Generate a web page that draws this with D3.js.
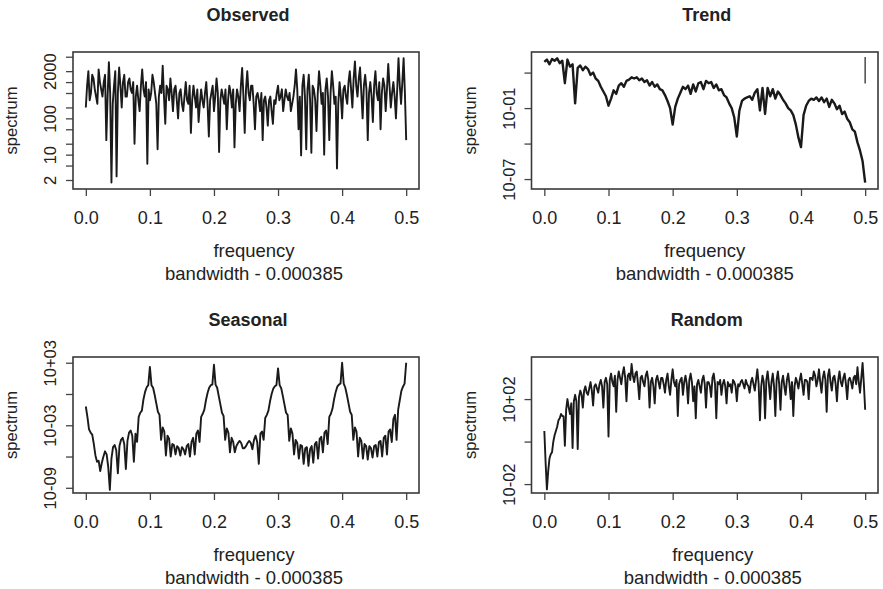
<!DOCTYPE html>
<html>
<head>
<meta charset="utf-8">
<script src="https://cdn.jsdelivr.net/npm/d3@7"></script>
<style>
  body { margin: 0; background: #fff; }
  text { font-family: "Liberation Sans", Arial, Helvetica, sans-serif; fill: #222; }
</style>
</head>
<body>
<div id="chart"></div>
<script>
// frequency axis ticks (shared by all four panels)
var freqTicks = [0, 0.1, 0.2, 0.3, 0.4, 0.5];
var freqTickLabels = ["0.0", "0.1", "0.2", "0.3", "0.4", "0.5"];

// spectra, stored as log10(spectrum) on an even frequency grid
var observedStep = 0.002;
var observedLog = [
  2.3, 2.9, 3.3, 2.5, 2.7, 3.2, 3.1, 2.8, 2.6, 2.4, 3.35, 3.0, 2.8, 2.6, 3.0, 3.2, 1.4, 2.6, 3.55, 2.7,
  0.23, 2.4, 2.9, 3.3, 0.4, 2.7, 3.4, 2.9, 2.3, 3.0, 3.2, 2.6, 2.6, 3.0, 3.1, 2.8, 2.7, 3.0, 1.3, 2.6,
  2.9, 2.5, 2.2, 2.9, 3.35, 2.8, 2.6, 3.0, 0.75, 2.8, 2.5, 2.7, 3.2, 3.0, 2.7, 2.4, 1.15, 2.6, 2.9, 2.7,
  3.45, 2.6, 1.85, 2.9, 2.8, 2.5, 3.1, 2.7, 2.2, 2.8, 2.9, 2.5, 2.0, 2.7, 2.8, 2.4, 2.2, 2.6, 3.0, 2.5,
  2.4, 2.9, 1.6, 2.5, 2.9, 2.6, 2.3, 2.8, 1.9, 2.4, 2.8, 2.5, 2.3, 2.7, 3.0, 2.4, 1.5, 2.5, 2.7, 2.9,
  2.2, 2.6, 3.1, 2.7, 1.07, 2.5, 2.8, 2.6, 2.4, 2.8, 1.7, 2.5, 2.9, 2.7, 2.3, 2.8, 1.2, 2.4, 2.8, 2.6,
  2.2, 2.9, 3.39, 2.6, 1.6, 2.8, 3.3, 2.7, 2.5, 2.9, 2.9, 2.4, 1.7, 2.6, 2.7, 2.5, 2.2, 2.7, 1.4, 2.5,
  2.6, 2.3, 1.8, 2.5, 2.6, 2.2, 1.85, 2.5, 2.4, 2.7, 2.9, 2.5, 2.6, 2.8, 2.2, 2.5, 2.8, 2.6, 2.5, 2.7,
  2.2, 2.4, 2.6, 2.9, 3.35, 2.8, 1.7, 2.6, 0.98, 2.9, 3.2, 2.6, 1.15, 2.8, 3.2, 2.5, 1.05, 2.9, 2.8, 2.5,
  1.65, 2.7, 3.3, 2.9, 2.4, 2.7, 1.0, 2.8, 3.1, 2.6, 1.4, 2.7, 3.3, 2.9, 2.4, 2.6, 0.62, 2.4, 3.0, 2.6,
  2.0, 2.8, 2.9, 2.6, 2.4, 3.0, 3.3, 2.8, 2.3, 3.1, 3.57, 2.9, 2.6, 3.1, 3.4, 2.7, 2.0, 2.9, 3.2, 2.8,
  1.4, 2.7, 3.0, 2.6, 1.9, 2.9, 3.3, 2.7, 2.5, 3.0, 1.7, 2.7, 3.1, 2.9, 2.2, 2.8, 3.5, 2.9, 2.3, 2.7,
  3.0, 2.6, 2.0, 2.8, 3.66, 2.9, 2.4, 3.0, 3.66, 2.7, 1.4
];

var trendStep = 0.004;
var trendLog = [
  2.9, 3.1, 2.7, 3.15, 3.0, 3.2, 2.8, 3.0, 1.1, 3.1,
  2.5, 2.7, -0.6, 2.4, 2.6, 2.2, 2.5, 2.3, 1.8, 2.0,
  1.5, 1.3, 0.8, 0.4, 0.0, -0.8, -0.2, 0.5, 0.2, 0.9,
  1.1, 0.8, 1.3, 1.4, 1.6, 1.5, 1.6, 1.35, 1.5, 1.2,
  1.35, 0.9, 1.2, 0.8, 1.0, 0.6, 0.5, 0.1, -0.4, -1.0,
  -2.4, -0.9, -0.2, 0.3, 0.8, 0.6, 0.9, 0.2, 1.0, 0.4,
  1.1, 1.2, 0.6, 1.3, 1.1, 1.2, 0.7, 1.0, 0.5, 0.6,
  0.1, -0.1, -0.6, -1.0, -1.8, -3.4, -1.2, -0.4, -0.2, -0.1,
  0.0, -0.3, 0.3, 0.6, -1.2, 0.7, -1.5, 0.7, 0.0, 0.6,
  -0.2, 0.4, 0.1, -0.3, -0.6, -1.0, -1.2, -1.6, -2.4, -3.5,
  -4.3, -1.6, -0.8, -0.4, -0.2, -0.3, -0.1, -0.4, -0.1, -0.5,
  -0.2, -0.9, -0.3, -0.6, -1.1, -0.8, -1.5, -1.3, -1.9, -2.2,
  -2.8, -3.0, -3.9, -4.6, -5.5, -7.3
];
// confidence bar drawn at the right edge of the trend panel
var trendCI = [1.07, 3.32];

var seasonalStep = 0.0025;
var seasonalLog = [
  -1.2, -2.2, -3.4, -3.7, -3.9, -4.8, -5.9, -6.5, -6.4, -7.4,
  -6.6, -6.0, -5.5, -5.8, -7.0, -9.2, -6.2, -5.1, -4.9, -5.4,
  -7.6, -5.0, -4.4, -4.2, -4.8, -7.2, -4.5, -3.7, -3.5, -4.0,
  -6.5, -3.8, -4.6, -2.2, -1.8, -1.6, -0.5, 0.2, 0.65, 0.85,
  2.6, 0.85, 0.6, -0.1, -0.9, -1.7, -2.0, -4.4, -3.2, -3.6,
  -5.9, -4.0, -4.3, -6.0, -4.8, -4.9, -5.8, -5.0, -5.2, -5.9,
  -5.1, -5.3, -5.8, -5.0, -4.8, -6.0, -4.6, -4.2, -5.8, -3.8,
  -3.5, -4.6, -2.2, -1.9, -1.5, -0.6, 0.1, 0.6, 0.85, 0.9,
  2.8, 0.9, 0.6, -0.2, -1.0, -1.8, -2.1, -4.4, -3.3, -3.7,
  -5.6, -4.2, -4.6, -5.6, -5.0, -4.7, -4.5, -4.7, -5.2, -5.2,
  -5.0, -4.7, -4.5, -4.7, -5.3, -4.4, -4.0, -4.6, -6.7, -3.8,
  -3.6, -4.4, -2.3, -2.0, -1.6, -0.7, 0.0, 0.5, 0.75, 0.85,
  2.45, 0.85, 0.55, -0.2, -1.0, -1.8, -2.0, -4.5, -3.3, -3.8,
  -5.8, -4.4, -4.7, -6.2, -4.9, -5.0, -6.7, -5.2, -5.1, -6.9,
  -5.3, -5.0, -6.6, -4.8, -4.6, -6.2, -4.3, -4.1, -5.6, -3.7,
  -3.5, -4.8, -2.2, -1.9, -1.4, -0.5, 0.2, 0.7, 0.9, 1.0,
  3.0, 1.0, 0.6, -0.1, -0.9, -1.7, -2.0, -4.4, -3.2, -3.6,
  -6.0, -4.2, -4.5, -6.2, -4.8, -5.0, -6.3, -5.0, -5.2, -6.1,
  -5.0, -4.9, -6.0, -4.6, -4.5, -6.0, -4.2, -4.0, -5.8, -3.6,
  -3.4, -4.6, -2.4, -2.0, -4.4, -1.5, -0.6, 0.3, 0.7, 1.0,
  3.0
];

var randomStep = 0.002;
var randomLog = [
  0.5, -1.0, -2.25, -1.4, -0.8, -0.6, -0.5, 0.0, 0.3, 0.5, 0.7, 1.0, 1.1, 1.3, 1.2, 1.2, -0.2, 1.5, 2.0, 1.6,
  1.3, 1.8, -0.3, 1.9, 2.2, 1.9, -0.35, 2.1, 2.4, 2.2, 1.6, 2.4, 2.6, 2.3, 2.2, 2.5, 2.8, 2.4, 1.7, 2.6,
  2.7, 2.5, 2.3, 2.7, 2.9, 2.6, 1.6, 2.8, 3.0, 2.7, 0.24, 2.9, 3.2, 2.8, 2.6, 3.1, 1.4, 2.9, 3.3, 3.0,
  2.7, 3.2, 3.5, 3.0, 1.9, 3.1, 3.2, 2.9, 3.65, 3.1, 2.8, 3.2, 3.3, 2.7, 2.0, 3.0, 3.1, 2.8, 2.6, 3.1,
  3.3, 2.9, 1.6, 2.8, 3.0, 2.6, 1.8, 2.9, 3.1, 2.8, 2.5, 3.0, 3.0, 2.7, 2.3, 2.9, 3.2, 2.6, 2.2, 2.9,
  3.4, 2.8, 2.6, 2.9, 1.2, 2.7, 2.9, 3.0, 2.2, 2.8, 3.1, 2.7, 1.8, 2.9, 3.2, 2.8, 1.9, 2.6, 1.1, 2.7,
  2.9, 2.6, 2.3, 2.9, 3.1, 2.7, 1.6, 2.8, 2.8, 2.6, 2.1, 3.0, 3.2, 2.7, 1.1, 2.8, 2.7, 2.9, 2.2, 2.7,
  2.9, 2.6, 1.8, 2.8, 2.6, 2.7, 2.3, 2.9, 2.8, 2.6, 1.9, 2.7, 2.6, 2.8, 2.9, 2.7, 2.5, 2.9, 2.7, 2.6,
  2.3, 2.8, 3.0, 2.7, 2.4, 2.9, 3.4, 2.7, 1.0, 2.6, 3.1, 2.8, 1.1, 2.9, 3.3, 2.7, 2.0, 2.8, 3.2, 2.6,
  1.2, 2.9, 3.3, 2.7, 1.5, 2.8, 3.1, 2.6, 2.2, 2.9, 3.2, 2.7, 2.0, 2.8, 1.2, 2.6, 3.0, 2.8, 2.5, 2.9,
  3.2, 2.7, 2.2, 2.9, 2.9, 2.8, 2.0, 3.0, 3.0, 2.9, 3.3, 3.1, 2.6, 2.9, 3.4, 2.8, 2.3, 3.0, 3.3, 2.9,
  1.4, 3.1, 3.4, 2.8, 2.4, 3.0, 3.1, 2.7, 1.9, 2.9, 3.3, 2.8, 2.6, 3.0, 3.2, 2.7, 2.0, 2.9, 3.0, 2.8,
  2.5, 3.0, 3.1, 2.7, 3.5, 2.8, 2.3, 3.0, 3.7, 2.7, 1.5
];

var panels = [
  { title: "Observed", values: observedLog, step: observedStep, width: 1.9, labelShift: 8,
    box: [73, 52, 419, 189], logDomain: [0.053, 3.829],
    yTicks: [2, 5, 10, 20, 50, 100, 200, 500, 1000, 2000, 5000],
    yLabels: { 2: "2", 10: "10", 100: "100", 2000: "2000" } },
  { title: "Trend", values: trendLog, step: trendStep, width: 2.4, labelShift: 0, ci: trendCI,
    box: [531.5, 52, 878, 189], logDomain: [-7.84, 3.74],
    yTicks: [1e2, 1e-1, 1e-4, 1e-7],
    yLabels: { 1e-1: "10-01", 1e-7: "10-07" } },
  { title: "Seasonal", values: seasonalLog, step: seasonalStep, width: 1.9, labelShift: 8,
    box: [73, 357, 419, 493], logDomain: [-9.5, 3.55],
    yTicks: [1e3, 1, 1e-3, 1e-6, 1e-9],
    yLabels: { 1e3: "10+03", 1e-3: "10-03", 1e-9: "10-09" } },
  { title: "Random", values: randomLog, step: randomStep, width: 1.9, labelShift: 8,
    box: [531.5, 357, 878, 493], logDomain: [-2.42, 3.98],
    yTicks: [1e2, 1, 1e-2],
    yLabels: { 1e2: "10+02", 1e-2: "10-02" } }
];

var svg = d3.select("#chart")
  .append("svg")
    .attr("width", 883)
    .attr("height", 589);

panels.forEach(function(p) {
  var left = p.box[0], top = p.box[1], right = p.box[2], bottom = p.box[3];

  var x = d3.scaleLinear()
    .domain([-0.02, 0.52])
    .range([left, right]);

  var y = d3.scaleLog()
    .domain([Math.pow(10, p.logDomain[0]), Math.pow(10, p.logDomain[1])])
    .range([bottom, top]);

  var g = svg.append("g");

  // x axis
  var xAxis = g.append("g")
    .attr("transform", "translate(0," + bottom + ")")
    .call(d3.axisBottom(x)
      .tickValues(freqTicks)
      .tickFormat(function(d, i) { return freqTickLabels[i]; })
      .tickSize(7)
      .tickSizeOuter(0));
  xAxis.select(".domain").remove();
  xAxis.selectAll(".tick line").attr("stroke", "#444").attr("stroke-width", 1.3);
  xAxis.selectAll(".tick text")
    .attr("y", 35)
    .attr("dy", 0)
    .attr("font-size", 18)
    .style("fill", "#222");
  xAxis.attr("font-size", null).attr("font-family", null);

  // y axis, labels rotated as in R
  var yAxis = g.append("g")
    .attr("transform", "translate(" + left + ",0)")
    .call(d3.axisLeft(y)
      .tickValues(p.yTicks)
      .tickFormat(function(d) { return p.yLabels[d] || ""; })
      .tickSize(7)
      .tickSizeOuter(0));
  yAxis.select(".domain").remove();
  yAxis.selectAll(".tick line").attr("stroke", "#444").attr("stroke-width", 1.3);
  yAxis.selectAll(".tick text")
    .attr("transform", "rotate(-90)")
    .attr("x", 0)
    .attr("y", -17)
    .attr("dy", 0)
    .attr("text-anchor", "middle")
    .attr("font-size", 16.5)
    .style("fill", "#222");
  yAxis.attr("font-size", null).attr("font-family", null);

  // spectrum line
  var line = d3.line()
    .x(function(d, i) { return x(i * p.step); })
    .y(function(d) { return y(Math.pow(10, d)); });

  g.append("path")
    .datum(p.values)
    .attr("d", line)
    .attr("fill", "none")
    .attr("stroke", "#1a1a1a")
    .attr("stroke-width", p.width)
    .attr("stroke-linejoin", "round");

  if (p.ci) {
    g.append("line")
      .attr("x1", x(0.5)).attr("x2", x(0.5))
      .attr("y1", y(Math.pow(10, p.ci[0])))
      .attr("y2", y(Math.pow(10, p.ci[1])))
      .attr("stroke", "#555")
      .attr("stroke-width", 1.6);
  }

  // frame
  g.append("rect")
    .attr("x", left).attr("y", top)
    .attr("width", right - left).attr("height", bottom - top)
    .attr("fill", "none")
    .attr("stroke", "#3a3a3a")
    .attr("stroke-width", 1.6);

  var cx = (left + right) / 2;

  g.append("text")
    .attr("x", cx + 2).attr("y", top - 31)
    .attr("text-anchor", "middle")
    .attr("font-size", 18)
    .attr("font-weight", "bold")
    .text(p.title);

  g.append("text")
    .attr("x", cx + p.labelShift).attr("y", bottom + 68)
    .attr("text-anchor", "middle")
    .attr("font-size", 18.5)
    .text("frequency");

  g.append("text")
    .attr("x", cx + p.labelShift).attr("y", bottom + 90.5)
    .attr("text-anchor", "middle")
    .attr("font-size", 18.5)
    .text("bandwidth - 0.000385");

  g.append("text")
    .attr("transform", "translate(" + (left - 56) + "," + ((top + bottom) / 2) + ") rotate(-90)")
    .attr("text-anchor", "middle")
    .attr("font-size", 16.5)
    .text("spectrum");
});
</script>
</body>
</html>
